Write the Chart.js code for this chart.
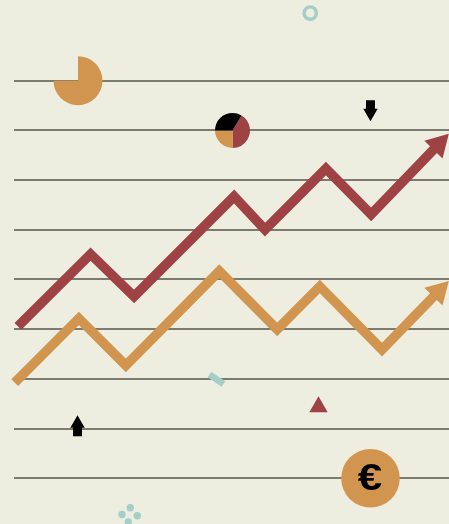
<!DOCTYPE html>
<html><head><meta charset="utf-8">
<style>html,body{margin:0;padding:0;background:#EDEDE0;overflow:hidden}canvas{display:block}</style>
<script src="https://cdn.jsdelivr.net/npm/chart.js@4"></script>
</head><body>
<canvas id="c" width="449" height="524"></canvas>
<script>
// Data (x: 0-100 timeline, y: grid units)
const gridTicks = [0,1,2,3,4,5,6,7,8];
const redX = [0.9,17.6,27.6,50.6,57.7,71.7,82.1,97.6];
const redY = [3.055,4.51,3.66,5.67,5.005,6.23,5.31,6.72];
const orangeX = [0.16,14.9,25.7,47.2,60.5,70.3,84.6,97.6];
const orangeY = [1.925,3.216,2.27,4.17,2.995,3.86,2.59,3.76];
const ringXY = [68.1,9.36];
const triangleXY = [70.0,1.437];
const coinXY = [81.95,0];
const dashX = [44.94,48.16];
const dashY = [2.089,1.897];
const dotsX = [26.74,24.83,28.34,26.27];
const dotsY = [-0.593,-0.728,-0.754,-0.88];
const arrowUpXY = [14.6,1.055];
const arrowDownXY = [81.95,7.395];
const pieOneXY = [14.71,8.0];
const pieOneShares = [270];
const pieTwoXY = [50.23,7.0];
const pieTwoShares = [149,90,121];
const coinLabel = '€';

const RED='#9E4244', ORANGE='#D2954F', TEAL='#A3CFC8', BLACK='#000000', GRID='#7B7B6F';
const pts=(xs,ys)=>xs.map((x,i)=>({x,y:ys[i]}));
const lineDs=(xs,ys,color,rot)=>({type:'line',data:pts(xs,ys),borderColor:color,backgroundColor:color,borderWidth:9.6,
  borderJoinStyle:'miter',borderCapStyle:'butt',tension:0,clip:false,pointStyle:'triangle',
  pointRotation:rot,pointBorderWidth:0,pointBackgroundColor:color,
  pointRadius:xs.map((_,i)=>i===xs.length-1?14.7:0)});
const markDs=(xy,style,radius,fill,stroke,bw)=>({type:'scatter',data:[{x:xy[0],y:xy[1]}],pointStyle:style,pointRadius:radius,
  pointBackgroundColor:fill,pointBorderColor:stroke,pointBorderWidth:bw,clip:false,showLine:false});

const decor={id:'decor',afterDatasetsDraw(ch){
  const c=ch.ctx,X=ch.scales.x,Y=ch.scales.y;
  const pie=(xy,shares,cols,r,start)=>{
    const px=X.getPixelForValue(xy[0]),py=Y.getPixelForValue(xy[1]);
    let a=start-90;
    shares.forEach((s,i)=>{c.beginPath();c.moveTo(px,py);
      c.arc(px,py,r,a*Math.PI/180,(a+s)*Math.PI/180);c.closePath();c.fillStyle=cols[i];c.fill();a+=s;});
  };
  const arrow=(xy,dir)=>{
    const px=X.getPixelForValue(xy[0]),py=Y.getPixelForValue(xy[1]);
    const S=[[0,-10.5],[7.2,2],[4.5,2],[4.5,10.5],[-4.5,10.5],[-4.5,2],[-7.2,2]];
    c.beginPath();S.forEach((p,i)=>{const yy=py+p[1]*dir;i?c.lineTo(px+p[0],yy):c.moveTo(px+p[0],yy);});
    c.closePath();c.fillStyle=BLACK;c.fill();
  };
  c.save();
  pie(pieOneXY,pieOneShares,[ORANGE],24.5,0);
  pie(pieTwoXY,pieTwoShares,[RED,ORANGE,BLACK],17.5,31);
  arrow(arrowUpXY,1);arrow(arrowDownXY,-1);
  c.fillStyle=BLACK;c.font='bold 36px "Liberation Sans"';c.textAlign='center';c.textBaseline='alphabetic';
  c.translate(X.getPixelForValue(coinXY[0])-0.5,Y.getPixelForValue(coinXY[1])+12);
  c.scale(1.22,1);
  c.fillText(coinLabel,0,0);
  c.restore();
}};

new Chart(document.getElementById('c'),{
  data:{datasets:[
    lineDs(redX,redY,RED,44.3),
    lineDs(orangeX,orangeY,ORANGE,44.6),
    {type:'line',data:pts(dashX,dashY),borderColor:TEAL,borderWidth:6.5,borderCapStyle:'butt',pointRadius:0,clip:false},
    {type:'scatter',data:pts(dotsX,dotsY),pointRadius:3.7,pointBackgroundColor:TEAL,pointBorderWidth:0,clip:false},
    markDs(ringXY,'circle',6.2,'rgba(0,0,0,0)',TEAL,3.4),
    markDs(triangleXY,'triangle',10.6,RED,RED,0),
    markDs(coinXY,'circle',29.3,ORANGE,ORANGE,0)
  ]},
  options:{responsive:false,animation:false,events:[],
    layout:{autoPadding:false,padding:{left:14,right:0,top:0,bottom:0}},
    plugins:{legend:{display:false},tooltip:{enabled:false},title:{display:false}},
    scales:{
      x:{type:'linear',min:0,max:100,display:false},
      y:{type:'linear',min:-0.9195,max:9.6237,
        afterBuildTicks(a){a.ticks=gridTicks.map(v=>({value:v}));},
        afterFit(a){a.width=0;},
        ticks:{display:false},border:{display:false},
        grid:{color:GRID,lineWidth:2,drawTicks:false}}
    }
  },
  plugins:[decor]
});
</script>
</body></html>
